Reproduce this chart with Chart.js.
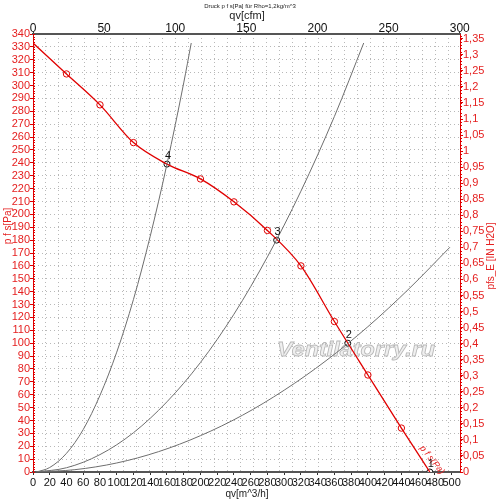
<!DOCTYPE html>
<html lang="de">
<head>
  <meta charset="UTF-8" />
  <title>Druck p f s[Pa]</title>
  <script src="https://cdn.jsdelivr.net/npm/chart.js"></script>
  <style>
    html, body { margin: 0; padding: 0; background: #fff; }
    #wrap { width: 500px; height: 501px; }
  </style>
</head>
<body>
  <div id="wrap"><canvas id="fan" width="500" height="501"></canvas></div>

  <script>
    // fan curve p_fs [Pa] over qv [m^3/h]
    const flow = [0, 40, 80, 120, 160, 200, 240, 280, 320, 360, 400, 440, 474];
    const pressure = [333, 309, 285, 255.7, 239, 227.5, 209.7, 187.5, 160, 116.8, 75.3, 34.1, 0];
    const markerIdx = [1, 2, 3, 5, 6, 7, 8, 9, 10, 11];

    // system curves
    const sys4Flow = [4, 20, 40, 60, 80, 100, 120, 140, 160, 180, 189];
    const sys4P = [0, 3.5, 14.5, 33, 59.5, 93, 134, 183, 239, 302, 333];
    const sys3Flow = [4, 40, 80, 120, 160, 200, 240, 280, 320, 360, 395];
    const sys3P = [0, 3.3, 13.5, 30.5, 54.5, 85, 122.5, 167, 218, 276, 333];
    const sys2Flow = [4, 50, 100, 150, 200, 250, 300, 350, 400, 450, 498];
    const sys2P = [0, 1.8, 7, 15.8, 28.2, 44, 63.5, 86.4, 112.8, 142.8, 174.5];

    // operating points
    const opLabels = ['1', '2', '3', '4'];
    const opFlow = [474, 376, 291, 160];
    const opPressure = [0, 100, 180, 239];

    const cfmTicks = [0, 50, 100, 150, 200, 250, 300];

    const M3H_PER_CFM = 1.699;
    const PA_PER_INH2O = 249.09;
    const X_MAX = 510;
    const Y_MAX = 340;

    const FONT = '"Liberation Sans", Arial, sans-serif';
    const RED = '#e00000';
    const RED_TXT = '#e52020';
    const GRAY = '#6e6e6e';
    const GRID = '#b8b8b8';

    const pts = (xs, ys) => xs.map((x, i) => ({ x: x, y: ys[i] }));

    const decor = {
      id: 'decor',
      beforeDatasetsDraw(chart) {
        const ctx = chart.ctx;
        // watermark
        ctx.save();
        ctx.font = 'italic bold 21px ' + FONT;
        const txt = 'Ventilatorry.ru';
        const w = ctx.measureText(txt).width;
        ctx.translate(277, 356);
        ctx.scale(158 / w, 1);
        ctx.textBaseline = 'alphabetic';
        ctx.fillStyle = '#efefef';
        ctx.fillText(txt, 0, 0);
        ctx.strokeStyle = '#b8b8b8';
        ctx.lineWidth = 0.8;
        ctx.strokeText(txt, 0, 0);
        ctx.restore();
      },
      afterDraw(chart) {
        const ctx = chart.ctx;
        const sx = chart.scales.x, sy = chart.scales.y, sy2 = chart.scales.y2;
        const area = chart.chartArea;
        ctx.save();

        // minor ticks on the red axes
        ctx.strokeStyle = RED;
        ctx.lineWidth = 1;
        ctx.beginPath();
        for (let v = 0; v <= Y_MAX; v += 2) {
          const py = Math.round(sy.getPixelForValue(v)) + 0.5;
          ctx.moveTo(area.left, py);
          ctx.lineTo(area.left + 2, py);
        }
        for (let v = 0; v <= Y_MAX / PA_PER_INH2O; v += 0.01) {
          const py = Math.round(sy2.getPixelForValue(v)) + 0.5;
          ctx.moveTo(area.right, py);
          ctx.lineTo(area.right + 2, py);
        }
        ctx.stroke();

        // titles
        ctx.fillStyle = '#222';
        ctx.textAlign = 'center';
        ctx.textBaseline = 'middle';
        ctx.font = '6px ' + FONT;
        ctx.fillText('Druck p f s[Pa] für Rho=1,2kg/m^3', 250, 6);
        ctx.font = '11px ' + FONT;
        ctx.fillText('qv[cfm]', 247, 16);
        ctx.font = '10px ' + FONT;
        ctx.fillText('qv[m^3/h]', 247, 494);

        ctx.fillStyle = RED_TXT;
        ctx.save();
        ctx.translate(8, 226);
        ctx.rotate(-Math.PI / 2);
        ctx.fillText('p f s[Pa]', 0, 0);
        ctx.restore();
        ctx.save();
        ctx.translate(491, 256);
        ctx.rotate(-Math.PI / 2);
        ctx.fillText('pfs_E [IN H2O]', 0, 0);
        ctx.restore();

        // curve name along the fan curve
        ctx.save();
        ctx.translate(432, 460);
        ctx.rotate(0.9);
        ctx.font = 'italic 9px ' + FONT;
        ctx.fillText('p f s(Pa)', 0, 0);
        ctx.restore();

        // operating point numbers
        ctx.fillStyle = '#111';
        ctx.font = '11px ' + FONT;
        opLabels.forEach((lab, i) => {
          const px = sx.getPixelForValue(opFlow[i]) + 1;
          const py = sy.getPixelForValue(opPressure[i]) - 8;
          ctx.fillText(lab, px, py);
        });
        ctx.restore();
      }
    };

    new Chart(document.getElementById('fan'), {
      type: 'scatter',
      data: {
        datasets: [
          { data: pts(sys4Flow, sys4P), showLine: true, borderColor: GRAY, borderWidth: 1, pointRadius: 0, cubicInterpolationMode: 'monotone' },
          { data: pts(sys3Flow, sys3P), showLine: true, borderColor: GRAY, borderWidth: 1, pointRadius: 0, cubicInterpolationMode: 'monotone' },
          { data: pts(sys2Flow, sys2P), showLine: true, borderColor: GRAY, borderWidth: 1, pointRadius: 0, cubicInterpolationMode: 'monotone' },
          { data: pts(flow, pressure), showLine: true, borderColor: RED, borderWidth: 1.3, pointRadius: 0, cubicInterpolationMode: 'monotone' },
          {
            data: markerIdx.map(i => ({ x: flow[i], y: pressure[i] })),
            showLine: false, pointStyle: 'circle', pointRadius: 3.2,
            pointBorderColor: RED, pointBackgroundColor: 'rgba(0,0,0,0)', pointBorderWidth: 1
          },
          {
            data: pts(opFlow, opPressure),
            showLine: false, pointStyle: 'circle', pointRadius: 3,
            pointBorderColor: '#111', pointBackgroundColor: '#fff', pointBorderWidth: 1
          }
        ]
      },
      options: {
        responsive: false,
        animation: false,
        layout: { padding: 0 },
        plugins: { legend: { display: false }, tooltip: { enabled: false } },
        scales: {
          x: {
            type: 'linear', position: 'bottom', min: 0, max: X_MAX,
            ticks: { stepSize: 20, includeBounds: false, autoSkip: false, maxRotation: 0, color: '#111', padding: 1, font: { family: FONT, size: 11 } },
            grid: { drawOnChartArea: false, tickLength: 3, tickColor: '#333' },
            border: { color: '#555', width: 2 },
            afterFit: s => { s.height = 29; }
          },
          xg: {
            type: 'linear', position: 'bottom', min: 0, max: X_MAX,
            ticks: { display: false, stepSize: 15.5, includeBounds: false },
            grid: { color: GRID, drawTicks: false, lineWidth: 1 },
            border: { display: false, dash: [1, 3] },
            afterFit: s => { s.height = 0; }
          },
          xTop: {
            type: 'linear', position: 'top', min: 0, max: X_MAX / M3H_PER_CFM,
            afterBuildTicks: s => { s.ticks = cfmTicks.map(v => ({ value: v })); },
            ticks: { autoSkip: false, maxRotation: 0, color: '#111', padding: -4, font: { family: FONT, size: 12 } },
            grid: { drawOnChartArea: false, tickLength: 2, tickColor: '#333' },
            border: { color: '#555', width: 2 },
            afterFit: s => { s.height = 34; }
          },
          y: {
            type: 'linear', position: 'left', min: 0, max: Y_MAX,
            ticks: { stepSize: 10, autoSkip: false, color: RED_TXT, padding: 0, font: { family: FONT, size: 11 } },
            grid: { color: GRID, tickColor: RED, tickLength: 3, tickBorderDash: [] },
            border: { color: RED, width: 1, dash: [1, 3] },
            afterFit: s => { s.width = 33; }
          },
          y2: {
            type: 'linear', position: 'right', min: 0, max: Y_MAX / PA_PER_INH2O,
            ticks: {
              stepSize: 0.05, includeBounds: false, autoSkip: false, color: RED_TXT, padding: 0,
              font: { family: FONT, size: 11 },
              callback: v => String(Math.round(v * 100) / 100).replace('.', ',')
            },
            grid: { drawOnChartArea: false, tickColor: RED, tickLength: 3 },
            border: { color: RED, width: 1 },
            afterFit: s => { s.width = 40; }
          }
        }
      },
      plugins: [decor]
    });
  </script>
</body>
</html>
